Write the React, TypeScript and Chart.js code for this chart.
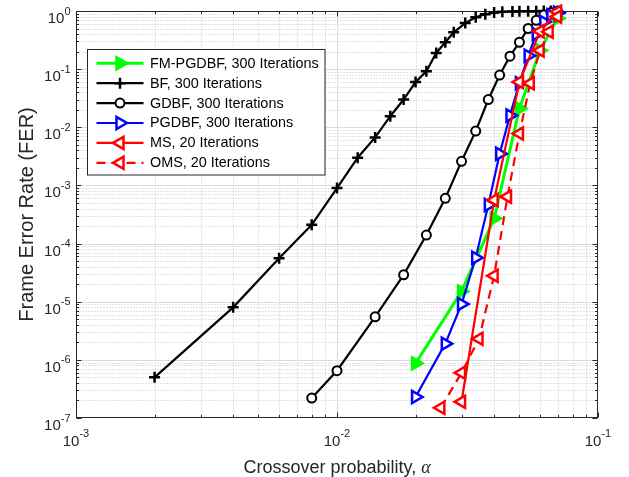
import React, { useEffect, useRef } from 'react';
import { Chart, registerables } from 'chart.js';

Chart.register(...registerables);

const W = 629;
const H = 477;
const FONT = "'Liberation Sans', Arial, Helvetica, sans-serif";
const AXIS_COLOR = '#262626';

// ---- axis / text data ----
const xRange = [1e-3, 1e-1];
const yRange = [1e-7, 1];
const xTickExponents = [-3, -2, -1];
const yTickExponents = [-7, -6, -5, -4, -3, -2, -1, 0];
const xLabel = 'Crossover probability, ';
const xLabelSymbol = 'α';
const yLabel = 'Frame Error Rate (FER)';

// ---- series data ----
const fmpgdbfX = [0.02, 0.03, 0.04, 0.05, 0.06, 0.07];
const fmpgdbfY = [8.7e-7, 1.5e-5, 2.7e-4, 2.1e-2, 0.21, 0.75];

const bfX = [0.002, 0.004, 0.006, 0.008, 0.010, 0.012, 0.014, 0.016, 0.018, 0.020, 0.022, 0.024, 0.026, 0.028, 0.031, 0.034, 0.037, 0.040, 0.043, 0.047, 0.050, 0.054, 0.058, 0.062, 0.066, 0.070];
const bfY = [5e-7, 8e-6, 5.6e-5, 2.1e-4, 9e-4, 3e-3, 6.7e-3, 1.55e-2, 3.0e-2, 6.0e-2, 9.2e-2, 0.19, 0.29, 0.43, 0.62, 0.78, 0.88, 0.94, 0.97, 0.98, 0.99, 0.99, 0.995, 0.997, 1.0, 1.0];

const gdbfX = [0.008, 0.010, 0.014, 0.018, 0.022, 0.026, 0.030, 0.034, 0.038, 0.042, 0.046, 0.050, 0.054, 0.058, 0.062, 0.066, 0.070];
const gdbfY = [2.2e-7, 6.5e-7, 5.5e-6, 2.9e-5, 1.4e-4, 6.0e-4, 2.6e-3, 8.6e-3, 3.0e-2, 7.9e-2, 0.167, 0.29, 0.5, 0.69, 0.85, 0.94, 0.98];

const pgdbfX = [0.02, 0.026, 0.03, 0.034, 0.038, 0.042, 0.046, 0.05, 0.054, 0.058, 0.062, 0.066, 0.07];
const pgdbfY = [2.3e-7, 1.9e-6, 9.1e-6, 5.7e-5, 4.6e-4, 3.5e-3, 1.6e-2, 5.7e-2, 0.17, 0.4, 0.65, 0.85, 0.93];

const msX = [0.03, 0.04, 0.05, 0.06, 0.07];
const msY = [1.9e-7, 5.6e-4, 0.06, 0.45, 0.97];

const omsX = [0.025, 0.03, 0.035, 0.04, 0.045, 0.05, 0.055, 0.06, 0.065, 0.07];
const omsY = [1.5e-7, 6e-7, 2.3e-6, 2.8e-5, 6.4e-4, 7.8e-3, 0.057, 0.21, 0.44, 0.8];

type Series = {
  label: string;
  xs: number[];
  ys: number[];
  color: string;
  fill: string;
  lineWidth: number;
  dash: number[];
  pointStyle: 'triangle' | 'cross' | 'circle';
  rotation: number;
  radius: number;
  pointBorderWidth: number;
};

const series: Series[] = [
  { label: 'FM-PGDBF, 300 Iterations', xs: fmpgdbfX, ys: fmpgdbfY, color: '#00ff00', fill: '#00ff00', lineWidth: 3, dash: [], pointStyle: 'triangle', rotation: 90, radius: 7.5, pointBorderWidth: 2 },
  { label: 'BF, 300 Iterations', xs: bfX, ys: bfY, color: '#000000', fill: '#000000', lineWidth: 2.2, dash: [], pointStyle: 'cross', rotation: 0, radius: 5.5, pointBorderWidth: 2.5 },
  { label: 'GDBF, 300 Iterations', xs: gdbfX, ys: gdbfY, color: '#000000', fill: '#ffffff', lineWidth: 2.2, dash: [], pointStyle: 'circle', rotation: 0, radius: 4.5, pointBorderWidth: 2 },
  { label: 'PGDBF, 300 Iterations', xs: pgdbfX, ys: pgdbfY, color: '#0000ff', fill: '#ffffff', lineWidth: 2.2, dash: [], pointStyle: 'triangle', rotation: 90, radius: 7, pointBorderWidth: 2.5 },
  { label: 'MS, 20 Iterations', xs: msX, ys: msY, color: '#ff0000', fill: '#ffffff', lineWidth: 2.2, dash: [], pointStyle: 'triangle', rotation: -90, radius: 7, pointBorderWidth: 2.5 },
  { label: 'OMS, 20 Iterations', xs: omsX, ys: omsY, color: '#ff0000', fill: '#ffffff', lineWidth: 2.2, dash: [9, 6], pointStyle: 'triangle', rotation: -90, radius: 7, pointBorderWidth: 2.5 },
];

function drawMarker(ctx: CanvasRenderingContext2D, s: Series, x: number, y: number) {
  ctx.save();
  ctx.setLineDash([]);
  ctx.lineWidth = s.pointBorderWidth;
  ctx.strokeStyle = s.color;
  ctx.fillStyle = s.fill;
  const r = s.radius;
  ctx.beginPath();
  if (s.pointStyle === 'triangle') {
    let rad = (s.rotation * Math.PI) / 180;
    ctx.moveTo(x + Math.sin(rad) * r, y - Math.cos(rad) * r);
    rad += (2 * Math.PI) / 3;
    ctx.lineTo(x + Math.sin(rad) * r, y - Math.cos(rad) * r);
    rad += (2 * Math.PI) / 3;
    ctx.lineTo(x + Math.sin(rad) * r, y - Math.cos(rad) * r);
    ctx.closePath();
    ctx.fill();
    ctx.stroke();
  } else if (s.pointStyle === 'circle') {
    ctx.arc(x, y, r, 0, Math.PI * 2);
    ctx.fill();
    ctx.stroke();
  } else {
    ctx.moveTo(x - r, y);
    ctx.lineTo(x + r, y);
    ctx.moveTo(x, y - r);
    ctx.lineTo(x, y + r);
    ctx.stroke();
  }
  ctx.restore();
}

function decadeValues(minExp: number, maxExp: number) {
  const major: number[] = [];
  const minor: number[] = [];
  for (let e = minExp; e <= maxExp; e++) {
    major.push(Math.pow(10, e));
    if (e < maxExp) for (let m = 2; m <= 9; m++) minor.push(m * Math.pow(10, e));
  }
  return { major, minor };
}

const framePlugin = {
  id: 'matlabFrame',
  beforeDatasetsDraw(chart: any) {
    const { ctx, chartArea: a } = chart;
    const xs = chart.scales.x;
    const ys = chart.scales.y;
    const L = Math.round(a.left) + 0.5;
    const R = Math.round(a.right) - 0.5;
    const T = Math.round(a.top) + 0.5;
    const B = Math.round(a.bottom) - 0.5;
    const xv = decadeValues(xTickExponents[0], xTickExponents[xTickExponents.length - 1]);
    const yv = decadeValues(yTickExponents[0], yTickExponents[yTickExponents.length - 1]);
    const sx = (v: number) => Math.round(xs.getPixelForValue(v)) + 0.5;
    const sy = (v: number) => Math.round(ys.getPixelForValue(v)) + 0.5;
    ctx.save();
    ctx.lineWidth = 1;
    // minor grid (dotted)
    ctx.strokeStyle = '#c4c4c4';
    ctx.setLineDash([1, 2]);
    ctx.beginPath();
    xv.minor.forEach((v) => { const p = sx(v); ctx.moveTo(p, T); ctx.lineTo(p, B); });
    yv.minor.forEach((v) => { const p = sy(v); ctx.moveTo(L, p); ctx.lineTo(R, p); });
    ctx.stroke();
    // major grid (solid)
    ctx.setLineDash([]);
    ctx.strokeStyle = '#dcdcdc';
    ctx.beginPath();
    xv.major.slice(1, -1).forEach((v) => { const p = sx(v); ctx.moveTo(p, T); ctx.lineTo(p, B); });
    yv.major.slice(1, -1).forEach((v) => { const p = sy(v); ctx.moveTo(L, p); ctx.lineTo(R, p); });
    ctx.stroke();
    // box
    ctx.strokeStyle = AXIS_COLOR;
    ctx.strokeRect(L, T, R - L, B - T);
    // ticks (inward on all sides)
    ctx.beginPath();
    const tk = (v: number, major: boolean, isX: boolean) => {
      const len = major ? 5 : 2.5;
      if (isX) {
        const p = sx(v);
        ctx.moveTo(p, B); ctx.lineTo(p, B - len);
        ctx.moveTo(p, T); ctx.lineTo(p, T + len);
      } else {
        const p = sy(v);
        ctx.moveTo(L, p); ctx.lineTo(L + len, p);
        ctx.moveTo(R, p); ctx.lineTo(R - len, p);
      }
    };
    xv.major.forEach((v) => tk(v, true, true));
    xv.minor.forEach((v) => tk(v, false, true));
    yv.major.forEach((v) => tk(v, true, false));
    yv.minor.forEach((v) => tk(v, false, false));
    ctx.stroke();
    ctx.restore();
  },
  afterDatasetsDraw(chart: any) {
    const { ctx } = chart;
    // legend
    const bx = 87.5, by = 49.5, bw = 237.5, bh = 125.5;
    ctx.save();
    ctx.fillStyle = '#ffffff';
    ctx.fillRect(bx, by, bw, bh);
    ctx.strokeStyle = AXIS_COLOR;
    ctx.lineWidth = 1;
    ctx.strokeRect(bx, by, bw, bh);
    series.forEach((s, i) => {
      const y = 63.3 + i * 19.9;
      ctx.save();
      ctx.strokeStyle = s.color;
      ctx.lineWidth = s.lineWidth;
      ctx.setLineDash(s.dash);
      ctx.beginPath();
      ctx.moveTo(96.5, y);
      ctx.lineTo(143.5, y);
      ctx.stroke();
      ctx.restore();
      drawMarker(ctx, s, 120, y);
      ctx.fillStyle = '#000000';
      ctx.font = `14.4px ${FONT}`;
      ctx.textAlign = 'left';
      ctx.textBaseline = 'middle';
      ctx.fillText(s.label, 150, y + 0.5);
    });
    ctx.restore();
  },
  afterDraw(chart: any) {
    const { ctx, chartArea: a } = chart;
    const xs = chart.scales.x;
    const ys = chart.scales.y;
    const baseFont = `15px ${FONT}`;
    const supFont = `11px ${FONT}`;
    ctx.save();
    ctx.fillStyle = AXIS_COLOR;
    ctx.textBaseline = 'alphabetic';
    ctx.textAlign = 'left';
    // x tick labels
    xTickExponents.forEach((e) => {
      const p = xs.getPixelForValue(Math.pow(10, e));
      ctx.font = baseFont;
      const w1 = ctx.measureText('10').width;
      ctx.font = supFont;
      const sup = String(e);
      const w2 = ctx.measureText(sup).width;
      const x0 = p - (w1 + w2) / 2;
      ctx.font = baseFont;
      ctx.fillText('10', x0, 445.5);
      ctx.font = supFont;
      ctx.fillText(sup, x0 + w1, 437);
    });
    // y tick labels
    yTickExponents.forEach((e) => {
      const p = ys.getPixelForValue(Math.pow(10, e));
      const sup = String(e);
      ctx.font = supFont;
      const w2 = ctx.measureText(sup).width;
      ctx.font = baseFont;
      const w1 = ctx.measureText('10').width;
      const right = 70.5;
      ctx.fillText('10', right - w2 - w1, p + 12);
      ctx.font = supFont;
      ctx.fillText(sup, right - w2, p + 3.5);
    });
    // x axis title
    const xFont = `18px ${FONT}`;
    const xSymFont = `italic 18px 'Liberation Serif', 'DejaVu Serif', serif`;
    ctx.font = xFont;
    const wA = ctx.measureText(xLabel).width;
    ctx.font = xSymFont;
    const wB = ctx.measureText(xLabelSymbol).width;
    const cx = (a.left + a.right) / 2;
    const sx0 = cx - (wA + wB) / 2;
    ctx.font = xFont;
    ctx.fillText(xLabel, sx0, 472.5);
    ctx.font = xSymFont;
    ctx.fillText(xLabelSymbol, sx0 + wA, 472.5);
    // y axis title
    ctx.save();
    ctx.translate(33, (a.top + a.bottom) / 2);
    ctx.rotate(-Math.PI / 2);
    ctx.font = `20px ${FONT}`;
    ctx.textAlign = 'center';
    ctx.fillText(yLabel, 0, 0);
    ctx.restore();
    ctx.restore();
  },
};

export default function App() {
  const ref = useRef<HTMLCanvasElement | null>(null);
  useEffect(() => {
    if (!ref.current) return;
    const datasets = series.map((s, i) => ({
      label: s.label,
      data: s.xs.map((x, j) => ({ x, y: s.ys[j] })),
      borderColor: s.color,
      backgroundColor: s.color,
      borderWidth: s.lineWidth,
      borderDash: s.dash,
      pointStyle: s.pointStyle,
      pointRotation: s.rotation,
      pointRadius: s.radius,
      pointBorderWidth: s.pointBorderWidth,
      pointBorderColor: s.color,
      pointBackgroundColor: s.fill,
      tension: 0,
      fill: false,
      clip: false as any,
      order: series.length - i,
    }));
    const chart = new Chart(ref.current, {
      type: 'line',
      data: { datasets },
      options: {
        responsive: false,
        animation: false,
        devicePixelRatio: 1,
        events: [],
        layout: { padding: { left: 76, right: 31, top: 11, bottom: 59 } },
        plugins: { legend: { display: false }, tooltip: { enabled: false }, title: { display: false } },
        scales: {
          x: { type: 'logarithmic', min: xRange[0], max: xRange[1], display: false },
          y: { type: 'logarithmic', min: yRange[0], max: yRange[1], display: false },
        },
      },
      plugins: [framePlugin],
    } as any);
    return () => chart.destroy();
  }, []);
  return (
    <div style={{ position: 'fixed', left: 0, top: 0, width: W, height: H, background: '#ffffff' }}>
      <canvas ref={ref} width={W} height={H} style={{ display: 'block', width: W, height: H }} />
    </div>
  );
}
